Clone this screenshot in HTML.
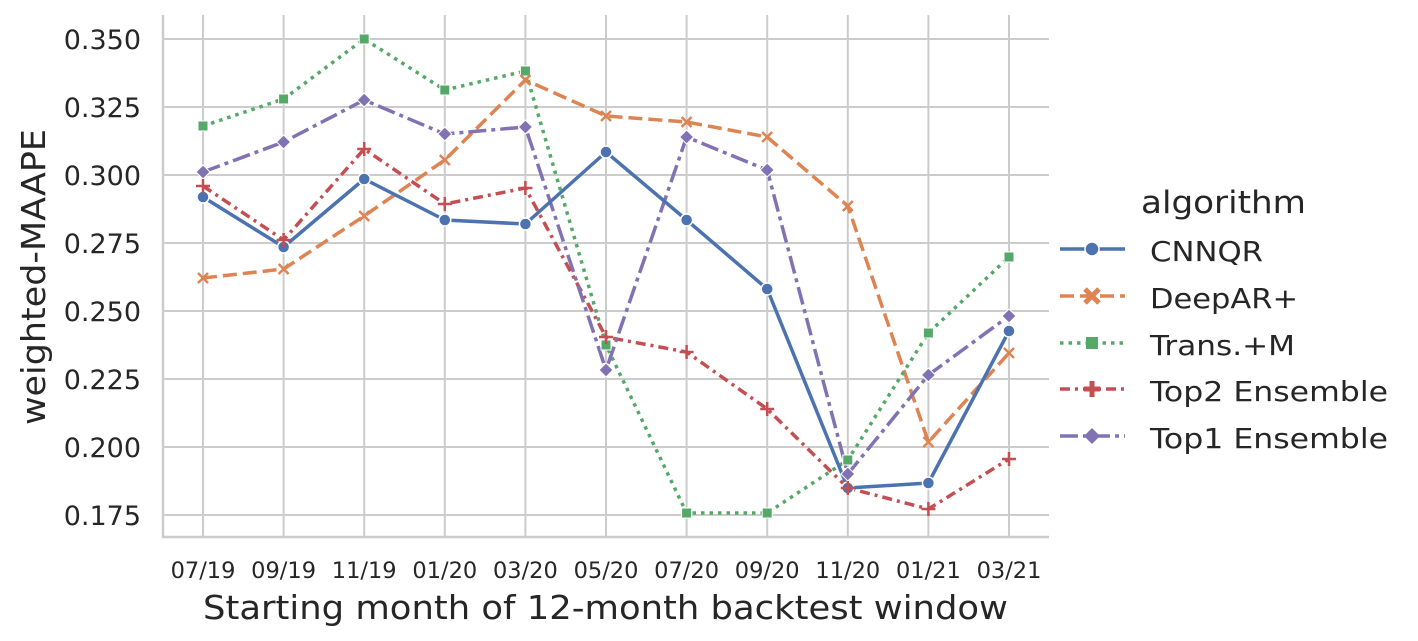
<!DOCTYPE html>
<html><head><meta charset="utf-8"><style>body{margin:0;background:#fff}svg{display:block}text{font-family:"DejaVu Sans","Liberation Sans",sans-serif;fill:#262626}</style></head><body>
<svg width="1418" height="641" xmlns="http://www.w3.org/2000/svg">
<g stroke="#cccccc" stroke-width="2">
<line x1="163" x2="1049" y1="39" y2="39"/><line x1="163" x2="1049" y1="107" y2="107"/><line x1="163" x2="1049" y1="175" y2="175"/><line x1="163" x2="1049" y1="243" y2="243"/><line x1="163" x2="1049" y1="311" y2="311"/><line x1="163" x2="1049" y1="379" y2="379"/><line x1="163" x2="1049" y1="447" y2="447"/><line x1="163" x2="1049" y1="515" y2="515"/>
<line x1="203" x2="203" y1="15" y2="537"/><line x1="283.6" x2="283.6" y1="15" y2="537"/><line x1="364.2" x2="364.2" y1="15" y2="537"/><line x1="444.8" x2="444.8" y1="15" y2="537"/><line x1="525.4" x2="525.4" y1="15" y2="537"/><line x1="606" x2="606" y1="15" y2="537"/><line x1="686.6" x2="686.6" y1="15" y2="537"/><line x1="767.2" x2="767.2" y1="15" y2="537"/><line x1="847.8" x2="847.8" y1="15" y2="537"/><line x1="928.4" x2="928.4" y1="15" y2="537"/><line x1="1009" x2="1009" y1="15" y2="537"/>
</g>
<g stroke="#cccccc" stroke-width="2.5"><line x1="163" x2="163" y1="15" y2="538"/><line x1="162" x2="1049" y1="537" y2="537"/></g>
<g font-size="27" text-anchor="end">
<text x="141" y="49">0.350</text><text x="141" y="117">0.325</text><text x="141" y="185">0.300</text><text x="141" y="253">0.275</text><text x="141" y="321">0.250</text><text x="141" y="389">0.225</text><text x="141" y="457">0.200</text><text x="141" y="525">0.175</text></g>
<g font-size="22.5" text-anchor="middle">
<text x="203" y="578">07/19</text><text x="283.6" y="578">09/19</text><text x="364.2" y="578">11/19</text><text x="444.8" y="578">01/20</text><text x="525.4" y="578">03/20</text><text x="606" y="578">05/20</text><text x="686.6" y="578">07/20</text><text x="767.2" y="578">09/20</text><text x="847.8" y="578">11/20</text><text x="928.4" y="578">01/21</text><text x="1009" y="578">03/21</text></g>
<text x="203" y="619" font-size="33" textLength="805" lengthAdjust="spacingAndGlyphs">Starting month of 12-month   backtest window</text>
<text transform="translate(45,425) rotate(-90)" font-size="33" textLength="296" lengthAdjust="spacingAndGlyphs">weighted-MAAPE</text>
<g fill="none" stroke-width="3.5" stroke-linejoin="round">
<polyline stroke="#dd8452" stroke-dasharray="14,6" points="203,278 283.6,269 364.2,216 444.8,160 525.4,80 606,116 686.6,122 767.2,137 847.8,206 928.4,442 1009,353"/>
<polyline stroke="#55a868" stroke-dasharray="3.5,5" points="203,126 283.6,99 364.2,39 444.8,90 525.4,71 606,345 686.6,513 767.2,513 847.8,460 928.4,333 1009,257"/>
<polyline stroke="#c44e52" stroke-dasharray="10,5,3,5" points="203,186 283.6,240 364.2,149 444.8,204 525.4,188 606,337 686.6,352 767.2,409 847.8,488 928.4,509 1009,459"/>
<polyline stroke="#8172b3" stroke-dasharray="18,5,4,5" points="203,172 283.6,142 364.2,100 444.8,134 525.4,127 606,370 686.6,137 767.2,170 847.8,474 928.4,375 1009,316"/>
<polyline stroke="#4c72b0" points="203,197 283.6,247 364.2,179 444.8,220 525.4,224 606,152 686.6,220 767.2,289 847.8,488 928.4,483 1009,331"/>
</g>
<g fill="#4c72b0" stroke="#fff" stroke-width="1.5">
<circle cx="203" cy="197" r="6"/><circle cx="283.6" cy="247" r="6"/><circle cx="364.2" cy="179" r="6"/><circle cx="444.8" cy="220" r="6"/><circle cx="525.4" cy="224" r="6"/><circle cx="606" cy="152" r="6"/><circle cx="686.6" cy="220" r="6"/><circle cx="767.2" cy="289" r="6"/><circle cx="847.8" cy="488" r="6"/><circle cx="928.4" cy="483" r="6"/><circle cx="1009" cy="331" r="6"/></g>
<g fill="#55a868" stroke="#fff" stroke-width="1">
<rect x="198" y="121" width="10" height="10"/><rect x="278.6" y="94" width="10" height="10"/><rect x="359.2" y="34" width="10" height="10"/><rect x="439.8" y="85" width="10" height="10"/><rect x="520.4" y="66" width="10" height="10"/><rect x="601" y="340" width="10" height="10"/><rect x="681.6" y="508" width="10" height="10"/><rect x="762.2" y="508" width="10" height="10"/><rect x="842.8" y="455" width="10" height="10"/><rect x="923.4" y="328" width="10" height="10"/><rect x="1004" y="252" width="10" height="10"/></g>
<g fill="#8172b3" stroke="#fff" stroke-width="1">
<path d="M203 165l7 7-7 7-7-7z"/><path d="M283.6 135l7 7-7 7-7-7z"/><path d="M364.2 93l7 7-7 7-7-7z"/><path d="M444.8 127l7 7-7 7-7-7z"/><path d="M525.4 120l7 7-7 7-7-7z"/><path d="M606 363l7 7-7 7-7-7z"/><path d="M686.6 130l7 7-7 7-7-7z"/><path d="M767.2 163l7 7-7 7-7-7z"/><path d="M847.8 467l7 7-7 7-7-7z"/><path d="M928.4 368l7 7-7 7-7-7z"/><path d="M1009 309l7 7-7 7-7-7z"/></g>
<g stroke="#dd8452" stroke-width="2.5">
<path d="M198 273l10 10M208 273l-10 10M278.6 264l10 10M288.6 264l-10 10M359.2 211l10 10M369.2 211l-10 10M439.8 155l10 10M449.8 155l-10 10M520.4 75l10 10M530.4 75l-10 10M601 111l10 10M611 111l-10 10M681.6 117l10 10M691.6 117l-10 10M762.2 132l10 10M772.2 132l-10 10M842.8 201l10 10M852.8 201l-10 10M923.4 437l10 10M933.4 437l-10 10M1004 348l10 10M1014 348l-10 10"/></g>
<g stroke="#c44e52" stroke-width="2.5">
<path d="M196 186h14M203 179v14M276.6 240h14M283.6 233v14M357.2 149h14M364.2 142v14M437.8 204h14M444.8 197v14M518.4 188h14M525.4 181v14M599 337h14M606 330v14M679.6 352h14M686.6 345v14M760.2 409h14M767.2 402v14M840.8 488h14M847.8 481v14M921.4 509h14M928.4 502v14M1002 459h14M1009 452v14"/></g>
<text x="1141" y="213" font-size="31" textLength="165" lengthAdjust="spacingAndGlyphs">algorithm</text>
<g font-size="28">
<text x="1150" y="261" textLength="113" lengthAdjust="spacingAndGlyphs">CNNQR</text><text x="1150" y="308" textLength="148" lengthAdjust="spacingAndGlyphs">DeepAR+</text><text x="1150" y="355" textLength="145" lengthAdjust="spacingAndGlyphs">Trans.+M</text><text x="1150" y="401" textLength="238" lengthAdjust="spacingAndGlyphs">Top2 Ensemble</text><text x="1150" y="448" textLength="238" lengthAdjust="spacingAndGlyphs">Top1 Ensemble</text></g>
<g fill="none" stroke-width="3.5">
<line x1="1060" x2="1125" y1="249" y2="249" stroke="#4c72b0"/>
<line x1="1060" x2="1125" y1="296" y2="296" stroke="#dd8452" stroke-dasharray="14,6"/>
<line x1="1060" x2="1125" y1="343" y2="343" stroke="#55a868" stroke-dasharray="3.5,5"/>
<line x1="1060" x2="1125" y1="389" y2="389" stroke="#c44e52" stroke-dasharray="10,5,3,5"/>
<line x1="1060" x2="1125" y1="436" y2="436" stroke="#8172b3" stroke-dasharray="18,5,4,5"/></g>
<circle cx="1092" cy="249" r="7" fill="#4c72b0" stroke="#fff" stroke-width="1.5"/>
<path d="M1085 289l14 14M1099 289l-14 14" stroke="#dd8452" stroke-width="5"/>
<rect x="1086" y="337" width="12" height="12" fill="#55a868"/>
<path d="M1084 389h16M1092 381v16" stroke="#c44e52" stroke-width="5"/>
<path d="M1092 428l8 8-8 8-8-8z" fill="#8172b3"/>
</svg>
</body></html>
